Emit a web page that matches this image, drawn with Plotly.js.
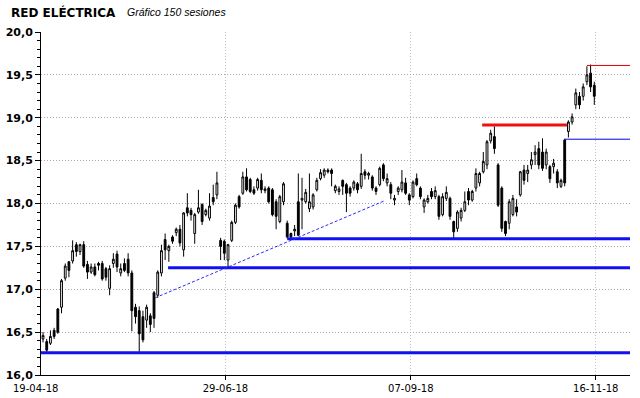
<!DOCTYPE html>
<html>
<head>
<meta charset="utf-8">
<script src="https://cdn.plot.ly/plotly-3.0.1.min.js"></script>
<style>html,body{margin:0;padding:0;background:#fff;}#chart{width:640px;height:398px;}</style>
</head>
<body>
<div id="chart"></div>
<script>
// Session OHLC values (150 sessions)
const open = [16.42,16.39,16.37,16.52,16.77,16.79,17.13,17.32,17.33,17.52,17.44,17.52,17.29,17.20,17.26,17.30,17.30,17.24,17.01,17.30,
17.41,17.19,17.30,17.35,17.19,16.79,16.75,16.68,16.64,16.69,16.96,16.93,17.19,17.58,17.45,17.61,17.66,17.70,17.46,17.95,
17.92,17.65,17.90,17.99,17.87,17.83,18.07,18.10,17.57,17.56,17.34,17.57,17.78,18.08,18.12,18.31,18.28,18.16,18.18,18.27,
18.15,18.18,18.16,18.02,17.79,18.02,17.77,17.65,17.68,18.02,18.04,18.02,17.94,17.96,18.16,18.29,18.33,18.39,18.39,18.15,
18.14,18.27,18.22,18.18,18.18,18.23,18.20,18.37,18.33,18.31,18.18,18.22,18.45,18.24,18.22,18.04,18.14,18.16,18.24,18.10,
18.08,18.29,18.18,17.96,18.02,18.14,18.08,18.08,17.87,18.06,18.06,17.79,17.71,17.83,17.92,18.14,18.04,18.18,18.24,18.37,
18.45,18.73,18.78,18.45,18.18,17.79,17.77,17.87,17.96,18.10,18.39,18.35,18.45,18.57,18.64,18.60,18.45,18.43,18.43,18.37,
18.20,18.74,18.84,18.95,19.15,19.25,19.25,19.42,19.52,19.38];
const high = [16.50,16.42,16.52,16.55,16.78,17.12,17.30,17.33,17.57,17.55,17.53,17.56,17.33,17.30,17.30,17.32,17.33,17.26,17.28,17.42,
17.45,17.30,17.36,17.42,17.22,16.83,16.80,16.75,16.82,16.72,16.98,17.22,17.52,17.65,17.52,17.63,17.72,17.75,17.90,18.12,
17.95,17.89,18.16,18.00,17.94,18.12,18.22,18.37,17.60,17.58,17.53,17.80,18.00,18.10,18.37,18.41,18.30,18.20,18.30,18.35,
18.20,18.20,18.18,18.05,18.10,18.25,17.80,17.66,17.75,18.35,18.30,18.17,18.35,18.12,18.30,18.40,18.41,18.41,18.41,18.22,
18.20,18.28,18.24,18.20,18.27,18.25,18.58,18.40,18.37,18.33,18.20,18.43,18.47,18.35,18.25,18.10,18.20,18.39,18.30,18.12,
18.27,18.35,18.20,18.06,18.10,18.18,18.20,18.10,18.12,18.20,18.08,17.80,17.92,17.95,18.14,18.18,18.16,18.41,18.37,18.60,
18.74,18.86,18.90,18.47,18.20,17.80,18.05,18.10,18.05,18.38,18.45,18.45,18.60,18.68,18.72,18.76,18.64,18.45,18.52,18.40,
18.29,18.75,18.97,19.05,19.34,19.30,19.40,19.60,19.62,19.42];
const low = [16.38,16.25,16.35,16.42,16.48,16.72,17.10,17.14,17.30,17.38,17.40,17.25,17.12,17.18,17.15,17.22,17.10,17.10,16.93,17.25,
17.20,17.15,17.20,17.15,16.51,16.60,16.27,16.38,16.55,16.50,16.55,16.90,17.15,17.34,17.32,17.53,17.62,17.50,17.38,17.85,
17.80,17.53,17.88,17.75,17.85,17.80,17.98,18.05,17.34,17.34,17.25,17.55,17.76,17.94,18.10,18.14,18.12,18.10,18.15,18.12,
18.12,18.00,17.85,17.70,17.77,17.98,17.59,17.60,17.62,17.62,17.70,18.00,17.90,17.93,18.14,18.27,18.30,18.35,18.20,18.12,
18.10,18.10,17.90,18.08,18.15,18.12,18.17,18.28,18.28,18.15,18.10,18.20,18.26,18.20,18.05,17.98,18.10,18.13,18.10,17.98,
18.06,18.20,18.05,17.89,18.00,18.05,18.05,17.81,17.85,18.03,17.81,17.59,17.67,17.79,17.90,17.98,18.02,18.14,18.20,18.35,
18.40,18.70,18.58,17.96,17.67,17.62,17.70,17.85,17.85,18.08,18.22,18.25,18.40,18.45,18.40,18.38,18.40,18.24,18.35,18.18,
18.18,18.20,18.77,18.92,19.10,19.10,19.20,19.38,19.30,19.15];
const close = [16.46,16.29,16.45,16.45,16.50,17.10,17.27,17.22,17.45,17.44,17.52,17.27,17.20,17.26,17.17,17.28,17.12,17.14,17.24,17.35,
17.26,17.24,17.22,17.19,16.75,16.68,16.48,16.41,16.79,16.59,16.66,17.20,17.45,17.46,17.50,17.56,17.70,17.54,17.89,17.89,
17.87,17.87,17.95,17.79,17.92,17.97,18.02,18.24,17.50,17.42,17.52,17.78,17.98,17.96,18.31,18.16,18.14,18.12,18.28,18.16,
18.17,18.02,17.87,17.85,18.08,18.23,17.61,17.61,17.70,17.63,18.06,18.13,18.02,18.10,18.27,18.36,18.39,18.37,18.35,18.20,
18.17,18.20,18.12,18.12,18.25,18.16,18.35,18.33,18.35,18.18,18.14,18.41,18.29,18.29,18.12,18.06,18.18,18.25,18.12,18.04,
18.25,18.22,18.08,18.04,18.06,18.08,18.15,17.85,18.08,18.13,17.85,17.67,17.90,17.92,18.02,18.04,18.14,18.35,18.35,18.49,
18.72,18.82,18.64,17.98,17.71,17.65,18.02,18.06,17.90,18.37,18.27,18.39,18.51,18.60,18.45,18.41,18.60,18.29,18.47,18.24,
18.27,18.24,18.95,19.01,19.29,19.15,19.36,19.50,19.36,19.25];

// Date tick labels and the session they mark
const tickLabels = ['19-04-18', '29-06-18', '07-09-18', '16-11-18'];
const tickSessions = [-1.6, 49.3, 99.4, 149.4];

// Horizontal support / resistance levels
const levelValues = [16.26, 17.25, 17.59, 18.915, 18.75, 19.61];
const levelFrom   = [-0.55, 33.8, 66.0, 118.7, 140.8, 147.0];
const levelTo     = [158.65, 158.65, 158.65, 141.6, 158.65, 158.65];
const levelColors = ['#1010f0', '#1010f0', '#1010f0', '#f01010', '#0000e0', '#e00000'];
const levelWidths = [3, 3, 3, 3, 1, 1];

// Rising trend line
const trendSessions = [30.3, 92.2];
const trendValues = [16.90, 18.03];

const sessions = open.map((_, i) => i);

const traces = [{
  type: 'candlestick',
  x: sessions, open: open, high: high, low: low, close: close,
  increasing: {line: {color: '#000', width: 1}, fillcolor: '#ffffff'},
  decreasing: {line: {color: '#000', width: 1}, fillcolor: '#000000'},
  whiskerwidth: 0,
  hoverinfo: 'skip',
  showlegend: false
}];

levelValues.forEach((v, k) => {
  traces.push({
    type: 'scatter', mode: 'lines',
    x: [levelFrom[k], levelTo[k]], y: [v, v],
    line: {color: levelColors[k], width: levelWidths[k]},
    hoverinfo: 'skip', showlegend: false
  });
});
traces.push({
  type: 'scatter', mode: 'lines',
  x: trendSessions, y: trendValues,
  line: {color: '#2a2aff', width: 1, dash: '3px,2px'},
  hoverinfo: 'skip', showlegend: false
});

const annotations = [
  {xref: 'paper', yref: 'paper', x: -0.0545, y: 1.058, xanchor: 'left', yanchor: 'middle',
   text: '<b>RED ELÉCTRICA</b>', showarrow: false,
   font: {family: 'DejaVu Sans', size: 12, color: '#000'}},
  {xref: 'paper', yref: 'paper', x: 0.142, y: 1.058, xanchor: 'left', yanchor: 'middle',
   text: '<i>Gráfico 150 sesiones</i>', showarrow: false,
   font: {family: 'Liberation Sans', size: 10.5, color: '#000'}},
  {xref: 'x', yref: 'paper', x: -0.55, y: -0.038, xanchor: 'center', yanchor: 'middle', xshift: -6,
   text: tickLabels[0], showarrow: false,
   font: {family: 'DejaVu Sans', size: 10, color: '#000'}}
];

const layout = {
  width: 640, height: 398,
  margin: {l: 41, r: 10, t: 32, b: 23, pad: 0},
  paper_bgcolor: '#fff', plot_bgcolor: '#fff',
  separators: ',.',
  showlegend: false,
  xaxis: {
    range: [-0.55, 158.65],
    tickmode: 'array', tickvals: tickSessions.slice(1), ticktext: tickLabels.slice(1),
    showline: true, linecolor: '#000', linewidth: 1,
    ticks: 'outside', ticklen: 4, tickcolor: '#000',
    showgrid: true, gridcolor: '#d0b8cc', griddash: '1px,2px', gridwidth: 1,
    zeroline: false,
    rangeslider: {visible: false},
    tickfont: {family: 'DejaVu Sans', size: 10, color: '#000'},
    fixedrange: true
  },
  yaxis: {
    range: [16, 20],
    tickmode: 'linear', tick0: 16, dtick: 0.5, tickformat: '.1f',
    showline: true, linecolor: '#000', linewidth: 1,
    ticks: 'outside', ticklen: 5, tickcolor: '#000',
    minor: {dtick: 0.1, ticks: 'outside', ticklen: 3, tickcolor: '#000', showgrid: false},
    showgrid: true, gridcolor: '#a8a8a8', griddash: '1px,2px', gridwidth: 1,
    zeroline: false,
    tickfont: {family: 'DejaVu Sans', size: 11, weight: 'bold', color: '#000'},
    fixedrange: true
  },
  annotations: annotations
};

Plotly.newPlot('chart', traces, layout, {staticPlot: true, displayModeBar: false});
</script>
</body>
</html>
